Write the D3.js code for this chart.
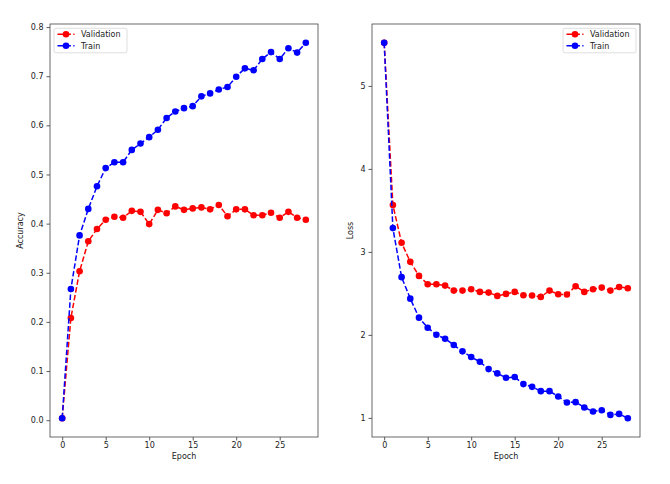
<!DOCTYPE html>
<html><head><meta charset="utf-8">
<script src="https://cdn.jsdelivr.net/npm/d3@7"></script>
<style>
html,body{margin:0;padding:0;background:#fff;}
svg text{font-family:"DejaVu Sans",sans-serif;fill:#222;}
</style></head>
<body><svg id="c" width="670" height="484"></svg>
<script>
const epochs = d3.range(0, 29);
const accTrain = [0.004,0.267,0.376,0.430,0.476,0.513,0.525,0.525,0.550,0.563,0.576,0.591,0.615,0.628,0.635,0.639,0.659,0.665,0.673,0.678,0.699,0.716,0.712,0.735,0.749,0.735,0.757,0.748,0.768];
const accVal = [0.004,0.208,0.303,0.364,0.389,0.408,0.414,0.412,0.426,0.424,0.399,0.428,0.421,0.435,0.428,0.431,0.433,0.429,0.438,0.415,0.429,0.429,0.417,0.417,0.422,0.412,0.424,0.412,0.408];
const lossTrain = [5.52,3.287,2.696,2.437,2.208,2.087,2.002,1.954,1.878,1.802,1.733,1.676,1.588,1.536,1.483,1.492,1.407,1.374,1.322,1.322,1.258,1.186,1.190,1.126,1.077,1.093,1.036,1.048,0.996];
const lossVal = [5.52,3.565,3.110,2.880,2.711,2.611,2.611,2.594,2.534,2.534,2.551,2.518,2.510,2.470,2.494,2.518,2.478,2.474,2.458,2.534,2.490,2.486,2.587,2.518,2.551,2.570,2.534,2.578,2.563];
const xTicks = [0,5,10,15,20,25];
const accTicks = [0,0.1,0.2,0.3,0.4,0.5,0.6,0.7,0.8];
const lossTicks = [1,2,3,4,5];
const seriesNames = ["Validation","Train"];
const seriesColors = ["#ff0000","#0000ff"];

const svg = d3.select("#c");

function panel(opts){
  const {left,right,top,bottom,valData,trainData,yTicks,yFmt,yLabel,labelOffset,legendRight} = opts;
  const all = valData.concat(trainData);
  const lo = d3.min(all), hi = d3.max(all), m = (hi-lo)*0.05;
  const x = d3.scaleLinear().domain([-1.4, 29.4]).range([left, right]);
  const y = d3.scaleLinear().domain([lo-m, hi+m]).range([bottom, top]);
  const g = svg.append("g");
  const xa = g.append("g").attr("transform",`translate(0,${bottom})`)
    .call(d3.axisBottom(x).tickValues(xTicks).tickSize(3.5).tickPadding(2).tickFormat(d3.format("d")));
  const ya = g.append("g").attr("transform",`translate(${left},0)`)
    .call(d3.axisLeft(y).tickValues(yTicks).tickSize(3.5).tickPadding(3).tickFormat(yFmt));
  [xa,ya].forEach(a=>{
    a.select(".domain").remove();
    a.selectAll("line").attr("stroke","#333").attr("stroke-width",0.8);
    a.selectAll("text").attr("font-size",8).attr("fill","#222");
  });
  g.append("rect").attr("x",left).attr("y",top).attr("width",right-left).attr("height",bottom-top)
    .attr("fill","none").attr("stroke","#444").attr("stroke-width",0.8);
  g.append("text").attr("x",(left+right)/2).attr("y",bottom+22).attr("text-anchor","middle")
    .attr("font-size",8).text("Epoch");
  g.append("text").attr("transform",`translate(${left-labelOffset},${(top+bottom)/2}) rotate(-90)`)
    .attr("text-anchor","middle").attr("font-size",8).text(yLabel);
  const line = d3.line().x((d,i)=>x(epochs[i])).y(d=>y(d));
  [valData, trainData].forEach((data,k)=>{
    g.append("path").datum(data).attr("d",line).attr("fill","none")
      .attr("stroke",seriesColors[k]).attr("stroke-width",1.5).attr("stroke-dasharray","5.5,2.4");
    g.selectAll(null).data(data).enter().append("circle")
      .attr("cx",(d,i)=>x(epochs[i])).attr("cy",d=>y(d)).attr("r",3.3).attr("fill",seriesColors[k]);
  });
  const lw = 73, lh = 24.5;
  const lx = legendRight ? right - 4 - lw : left + 4;
  const ly = top + 4.3;
  const lg = g.append("g").attr("transform",`translate(${lx},${ly})`);
  lg.append("rect").attr("width",lw).attr("height",lh).attr("rx",2)
    .attr("fill","#fff").attr("fill-opacity",0.8).attr("stroke","#d6d6d6").attr("stroke-width",0.8);
  seriesNames.forEach((n,k)=>{
    const yy = 6 + k*11.5;
    lg.append("line").attr("x1",3.5).attr("x2",20.5).attr("y1",yy).attr("y2",yy)
      .attr("stroke",seriesColors[k]).attr("stroke-width",1.5).attr("stroke-dasharray","5.5,2.4");
    lg.append("circle").attr("cx",12).attr("cy",yy).attr("r",3.3).attr("fill",seriesColors[k]);
    lg.append("text").attr("x",27).attr("y",yy).attr("dy","0.35em").attr("font-size",8).text(n);
  });
}

panel({left:50,right:318,top:24,bottom:437,valData:accVal,trainData:accTrain,
  yTicks:accTicks,yFmt:d3.format(".1f"),yLabel:"Accuracy",labelOffset:27,legendRight:false});
panel({left:372,right:640,top:24,bottom:437,valData:lossVal,trainData:lossTrain,
  yTicks:lossTicks,yFmt:d3.format("d"),yLabel:"Loss",labelOffset:19,legendRight:true});
</script></body></html>
